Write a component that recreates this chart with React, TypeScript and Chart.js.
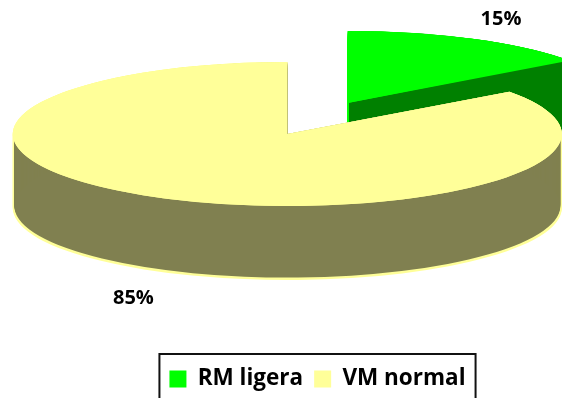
import React, { useEffect, useRef } from "react";
import { Chart, registerables } from "chart.js";

Chart.register(...registerables);

const categories = ["RM ligera", "VM normal"];
const values = [15, 85];
const topColors = ["#00FF00", "#FFFF99"];
const sideColors = ["#008000", "#808050"];

const RADIUS_X = 274.5;
const SQUASH = 72 / 274.5;
const APEX_X = 287.3;
const APEX_Y = 134;
const DEPTH = 74;
const EXPLODE = 133;
const FONT = "'Open Sans', sans-serif";
const LABEL_K = [
  [1.23, 1.31],
  [1.235, 1.4],
];

function arcGeometry(arc: any, i: number) {
  const off = i === 0 ? EXPLODE : 0;
  const mid = (arc.startAngle + arc.endAngle) / 2;
  return {
    mid,
    cx: APEX_X + Math.cos(mid) * off,
    cy: APEX_Y + Math.sin(mid) * off * SQUASH,
  };
}

function fillSector(ctx: CanvasRenderingContext2D, arc: any, i: number, dy: number, inset: number, color: string) {
  const g = arcGeometry(arc, i);
  const R = RADIUS_X - inset;
  const cx = g.cx + (i === 0 ? inset : 0);
  ctx.fillStyle = color;
  ctx.beginPath();
  ctx.moveTo(cx, g.cy + dy);
  ctx.ellipse(cx, g.cy + dy, R, R * SQUASH, 0, arc.startAngle, arc.endAngle);
  ctx.closePath();
  ctx.fill();
}

const pie3d = {
  id: "pie3d",
  afterDatasetsUpdate(chart: any) {
    const arcs = chart.getDatasetMeta(0).data;
    const circ = arcs[0].endAngle - arcs[0].startAngle;
    arcs[0].outerRadius = RADIUS_X - EXPLODE * (1 - Math.sin(Math.min(Math.PI, circ)));
    arcs[1].outerRadius = RADIUS_X;
  },
  beforeDatasetsDraw(chart: any) {
    const ctx = chart.ctx;
    const arcs = chart.getDatasetMeta(0).data;
    arcs.forEach((arc: any, i: number) => {
      for (let d = 0; d <= DEPTH; d += 1) fillSector(ctx, arc, i, d, 0, topColors[i]);
      for (let d = 0; d <= DEPTH - 1.5; d += 1) fillSector(ctx, arc, i, d, 1.5, sideColors[i]);
      fillSector(ctx, arc, i, 0, 0, topColors[i]);
    });
    ctx.save();
    ctx.translate(APEX_X, APEX_Y);
    ctx.scale(1, SQUASH);
    ctx.translate(-arcs[0].x, -arcs[0].y);
  },
  afterDatasetsDraw(chart: any) {
    const ctx = chart.ctx;
    ctx.restore();
    const arcs = chart.getDatasetMeta(0).data;
    ctx.save();
    ctx.fillStyle = "#000";
    ctx.font = `bold 20px ${FONT}`;
    ctx.textAlign = "center";
    ctx.textBaseline = "middle";
    arcs.forEach((arc: any, i: number) => {
      const g = arcGeometry(arc, i);
      const x = g.cx + Math.cos(g.mid) * RADIUS_X * LABEL_K[i][0];
      const y = g.cy + Math.sin(g.mid) * RADIUS_X * SQUASH * LABEL_K[i][1] + (i === 1 ? DEPTH : 0);
      ctx.fillText(`${values[i]}%`, x, y);
    });
    ctx.restore();
  },
  afterDraw(chart: any) {
    const ctx = chart.ctx;
    const l = chart.legend;
    const boxes = l.legendHitBoxes;
    const left = boxes[0].left - 10;
    const last = boxes[boxes.length - 1];
    const right = last.left + last.width + 10;
    const top = l.top - 2.75;
    ctx.save();
    ctx.strokeStyle = "#111";
    ctx.lineWidth = 2;
    ctx.strokeRect(left, top, right - left, 60);
    ctx.restore();
  },
};

export default function App() {
  const ref = useRef<HTMLCanvasElement>(null);
  useEffect(() => {
    const chart = new Chart(ref.current!, {
      type: "pie",
      data: {
        labels: categories,
        datasets: [
          {
            data: values,
            backgroundColor: topColors,
            borderWidth: 0,
            offset: [EXPLODE * 4, 0],
            clip: false,
          } as any,
        ],
      },
      options: {
        responsive: false,
        animation: false,
        events: [],
        radius: RADIUS_X,
        layout: { padding: { left: 73, bottom: -2.25 } },
        plugins: {
          tooltip: { enabled: false },
          legend: {
            position: "bottom",
            labels: {
              boxWidth: 17,
              boxHeight: 17,
              padding: 11,
              color: "#000",
              font: { family: FONT, size: 22.5, weight: "bold" },
            },
          },
        },
      } as any,
      plugins: [pie3d],
    });
    return () => chart.destroy();
  }, []);
  return (
    <canvas
      ref={ref}
      width={562}
      height={398}
      style={{ position: "absolute", left: 0, top: 0, display: "block" }}
    />
  );
}
